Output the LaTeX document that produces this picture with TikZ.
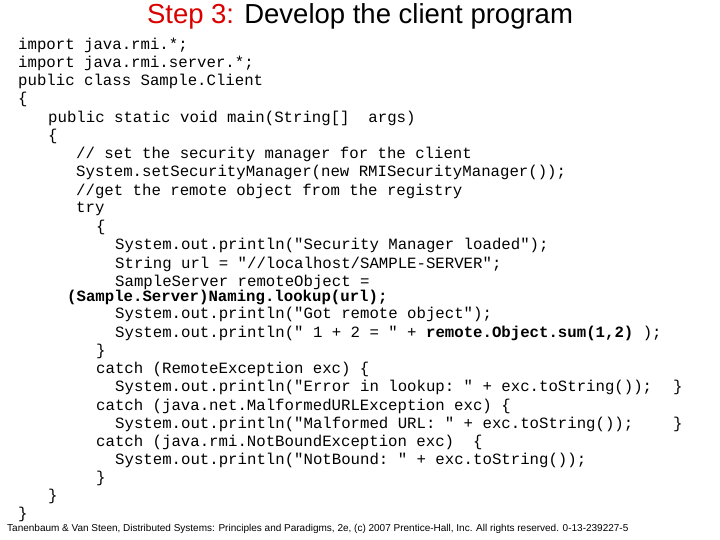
\documentclass[tikz,border=0pt]{standalone}
\usepackage{fontspec}
\setmainfont{Liberation Sans}
\setmonofont{Liberation Mono}
\begin{document}
\begin{tikzpicture}[x=1pt,y=1pt,
  code/.style={anchor=west,inner sep=0pt,font=\ttfamily\fontsize{15.7}{18}\selectfont}]
\useasboundingbox (0,0) rectangle (720,540);
\node[anchor=center,inner sep=0pt,font=\fontsize{27.5}{30}\selectfont] (title) at (360,524) {\textcolor[rgb]{0.85,0,0}{Step 3:} Develop the client program};
\node[code] (l1) at (18,495) {import java.rmi.*;};
\node[code] (l2) at (18,477) {import java.rmi.server.*;};
\node[code] (l3) at (18,459) {public class Sample.Client};
\node[code] (l4) at (18,441) {\{};
\node[code] (l5) at (48,422) {public static void main(String[]~~args)};
\node[code] (l6) at (48,404) {\{};
\node[code] (l7) at (76,386) {// set the security manager for the client};
\node[code] (l8) at (76,368) {System.setSecurityManager(new RMISecurityManager());};
\node[code] (l9) at (76,349) {//get the remote object from the registry};
\node[code] (l10) at (76,331) {try};
\node[code] (l11) at (96,313) {\{};
\node[code] (l12) at (115,295) {System.out.println("Security Manager loaded");};
\node[code] (l13) at (115,276) {String url = "//localhost/SAMPLE-SERVER";};
\node[code] (l14) at (115,258) {SampleServer remoteObject =};
\node[code] (l15) at (67,243) {\bfseries (Sample.Server)Naming.lookup(url);};
\node[code] (l16) at (115,226) {System.out.println("Got remote object");};
\node[code] (l17) at (115,207) {System.out.println(" 1 + 2 = " + \textbf{remote.Object.sum(1,2)} );};
\node[code] (l18) at (96,189) {\}};
\node[code] (l19) at (96,171) {catch (RemoteException exc) \{};
\node[code] (l20) at (115,153) {System.out.println("Error in lookup: " + exc.toString());};
\node[code] (l20b) at (673,153) {\}};
\node[code] (l21) at (96,134) {catch (java.net.MalformedURLException exc) \{};
\node[code] (l22) at (115,116) {System.out.println("Malformed URL: " + exc.toString());};
\node[code] (l22b) at (673,116) {\}};
\node[code] (l23) at (96,98) {catch (java.rmi.NotBoundException exc)~~\{};
\node[code] (l24) at (115,80) {System.out.println("NotBound: " + exc.toString());};
\node[code] (l25) at (96,62) {\}};
\node[code] (l26) at (48,44) {\}};
\node[code] (l27) at (18,26) {\}};
\node[anchor=west,inner sep=0pt,font=\fontsize{10}{12}\selectfont] (foot) at (7,11) {Tanenbaum \& Van Steen, Distributed Systems: Principles and Paradigms, 2e, (c) 2007 Prentice-Hall, Inc. All rights reserved. 0-13-239227-5};
\end{tikzpicture}
\end{document}
